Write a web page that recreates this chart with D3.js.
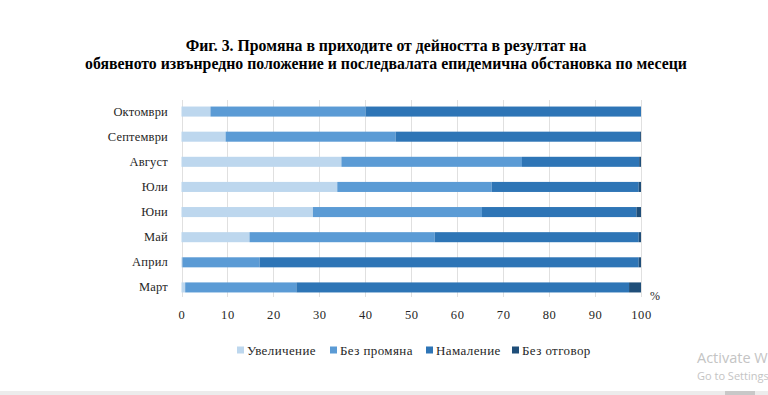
<!DOCTYPE html>
<meta charset="utf-8">
<head>
  <title>Фиг. 3</title>
  <script src="https://d3js.org/d3.v7.min.js"></script>
  <style>
    body { margin: 0; background: white; overflow: hidden; }
    text { font-family: "Liberation Serif", "Times New Roman", serif; fill: #262626; }
    .title { font-size: 15.8px; font-weight: bold; fill: black; }
    .y text { font-size: 12.5px; letter-spacing: 0.2px; }
    .x text { font-size: 12.5px; letter-spacing: 0.6px; }
    .y path, .y line, .x path, .x line { display: none; }
    .legend text { font-size: 13px; letter-spacing: 0.4px; }
    .win text { font-family: "Open Sans", sans-serif; fill: #c4c4c4; }
  </style>
</head>
<body>
<script>
  // months, top to bottom
  var months = ["Октомври", "Септември", "Август", "Юли", "Юни", "Май", "Април", "Март"];
  var seriesNames = ["Увеличение", "Без промяна", "Намаление", "Без отговор"];
  var increase  = [6.3, 9.6, 34.8, 33.9, 28.6, 14.8, 0.2, 0.8];
  var noChange  = [33.8, 37.0, 39.3, 33.6, 36.8, 40.3, 16.8, 24.2];
  var decrease  = [59.9, 53.2, 25.5, 32.0, 33.6, 44.4, 82.5, 72.4];
  var noAnswer  = [0.0, 0.2, 0.4, 0.5, 1.0, 0.5, 0.5, 2.6];
  var xTicks = [0, 10, 20, 30, 40, 50, 60, 70, 80, 90, 100];
  var colors = ["#bdd7ee", "#5b9bd5", "#2e75b6", "#1f4e79"];

  var data = months.map(function(m, i) {
    return { month: m, "Увеличение": increase[i], "Без промяна": noChange[i],
             "Намаление": decrease[i], "Без отговор": noAnswer[i] };
  });

  var svg = d3.select("body").append("svg")
    .attr("width", 768)
    .attr("height", 395);

  // title
  svg.append("text").attr("class", "title")
    .attr("x", 386).attr("y", 51).attr("text-anchor", "middle")
    .text("Фиг. 3. Промяна в приходите от дейността в резултат на");
  svg.append("text").attr("class", "title")
    .attr("x", 386).attr("y", 69).attr("text-anchor", "middle")
    .text("обявеното извънредно положение и последвалата епидемична обстановка по месеци");

  var x = d3.scaleLinear().domain([0, 100]).range([181.5, 641]);
  var y = d3.scaleBand().domain(months).range([99, 300])
    .paddingInner(0.6).paddingOuter(0.3);
  var color = d3.scaleOrdinal().domain(seriesNames).range(colors);

  // grid
  svg.append("g").selectAll("line")
    .data(xTicks)
    .enter().append("line")
    .attr("x1", function(d) { return Math.round(x(d)) + 0.5; })
    .attr("x2", function(d) { return Math.round(x(d)) + 0.5; })
    .attr("y1", 100).attr("y2", 297)
    .attr("stroke", "#e0e0e0").attr("stroke-width", 1);

  var stack = d3.stack().keys(seriesNames);
  svg.append("g").selectAll("g")
    .data(stack(data))
    .enter().append("g")
    .attr("fill", function(d) { return color(d.key); })
    .selectAll("rect")
    .data(function(d) { return d; })
    .enter().append("rect")
    .attr("x", function(d) { return x(d[0]); })
    .attr("y", function(d) { return y(d.data.month); })
    .attr("width", function(d) { return x(d[1]) - x(d[0]); })
    .attr("height", y.bandwidth());

  svg.append("g")
    .attr("class", "y axis")
    .attr("transform", "translate(172,0)")
    .call(d3.axisLeft(y).tickSize(0).tickPadding(4));

  svg.append("g")
    .attr("class", "x axis")
    .attr("transform", "translate(0,306)")
    .call(d3.axisBottom(x).tickValues(xTicks).tickSize(0).tickPadding(4));

  svg.append("text")
    .attr("x", 650).attr("y", 300)
    .style("font-size", "12px")
    .text("%");

  // legend
  var legendX = [237, 330, 426, 512];
  var legend = svg.append("g").attr("class", "legend")
    .selectAll("g")
    .data(seriesNames)
    .enter().append("g")
    .attr("transform", function(d, i) { return "translate(" + legendX[i] + ",350)"; });
  legend.append("rect")
    .attr("x", 0).attr("y", -3.5).attr("width", 7).attr("height", 7)
    .attr("fill", function(d) { return color(d); });
  legend.append("text")
    .attr("x", 10).attr("y", 4.5)
    .text(function(d) { return d; });

  // screenshot leftovers (cut at the right edge, as in the original)
  var win = svg.append("g").attr("class", "win");
  win.append("text").attr("x", 697).attr("y", 363).style("font-size", "14.5px").text("Activate Windows");
  win.append("text").attr("x", 697).attr("y", 380).style("font-size", "11px").text("Go to Settings to activate Windows.");
  svg.append("rect").attr("x", 0).attr("y", 391).attr("width", 768).attr("height", 4).attr("fill", "#ececec");
  svg.append("rect").attr("x", 725).attr("y", 391).attr("width", 30).attr("height", 4).attr("fill", "#c8c8c8");
</script>
</body>
</html>
